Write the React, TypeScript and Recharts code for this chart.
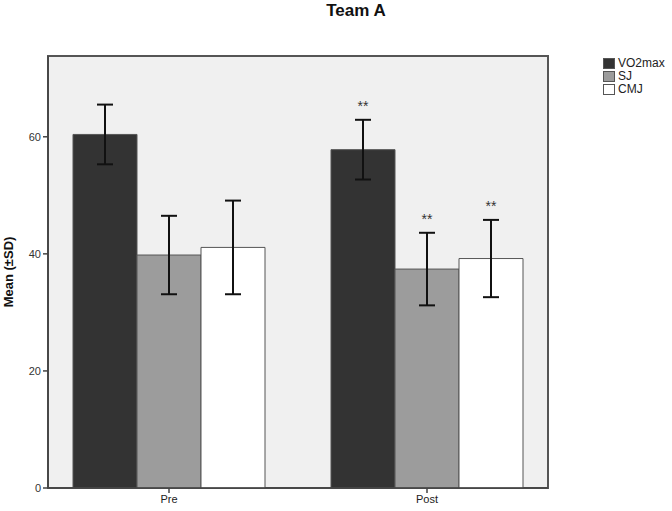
import { Bar, BarChart, CartesianGrid, ErrorBar, LabelList, ReferenceArea, XAxis, YAxis } from "recharts";

const PHASES = ["Pre", "Post"];
const VO2MAX = [60.4, 57.8];
const VO2MAX_SD = [5.1, 5.1];
const SJ = [39.8, 37.4];
const SJ_SD = [6.7, 6.2];
const CMJ = [41.1, 39.2];
const CMJ_SD = [8.0, 6.6];
const SIG = ["", "**"];
const Y_TICKS = [0, 20, 40, 60];
const Y_MAX = 73.8;

const SERIES = [
  { key: "VO2max", fill: "#333333", means: VO2MAX, sds: VO2MAX_SD },
  { key: "SJ", fill: "#9c9c9c", means: SJ, sds: SJ_SD },
  { key: "CMJ", fill: "#ffffff", means: CMJ, sds: CMJ_SD },
];

const data = PHASES.map((phase, i) => {
  const row: Record<string, string | number> = { phase };
  SERIES.forEach((s) => {
    row[s.key] = s.means[i];
    row[s.key + "Sd"] = s.sds[i];
  });
  return row;
});

const FONT = "'Liberation Sans', Arial, sans-serif";

// "**" sits above the upper whisker; the whisker top is derived from the bar's own pixel scale
function sigLabel(means: number[], sds: number[]) {
  return (props: any) => {
    const vb = props.viewBox ?? props;
    const x = vb.x ?? props.x;
    const y = vb.y ?? props.y;
    const w = vb.width ?? props.width;
    const h = vb.height ?? props.height;
    const i = props.index ?? 0;
    const mark = SIG[i];
    if (!mark) return null;
    const perUnit = h / means[i];
    const top = y - sds[i] * perUnit;
    return (
      <text x={x + w / 2} y={top - 9} textAnchor="middle" fontFamily={FONT} fontSize={14} fill="#333">
        {mark}
      </text>
    );
  };
}

function LegendBox() {
  return (
    <div
      style={{
        position: "absolute",
        left: 603,
        top: 57,
        fontFamily: FONT,
        fontSize: 12,
        color: "#222",
        lineHeight: "13px",
      }}
    >
      {SERIES.map((s) => (
        <div key={s.key} style={{ display: "flex", alignItems: "center", height: 13 }}>
          <span
            style={{
              display: "inline-block",
              width: 10,
              height: 9,
              background: s.fill,
              border: "1px solid #555",
              marginRight: 3,
            }}
          />
          {s.key}
        </div>
      ))}
    </div>
  );
}

export default function App() {
  return (
    <div style={{ position: "absolute", left: 0, top: 0, width: 672, height: 511, background: "#fff" }}>
      <div
        style={{
          position: "absolute",
          left: 356,
          top: 1,
          transform: "translateX(-50%)",
          fontFamily: FONT,
          fontWeight: "bold",
          fontSize: 17,
          color: "#111",
        }}
      >
        Team A
      </div>
      <LegendBox />
      <BarChart
        width={672}
        height={511}
        data={data}
        margin={{ top: 56, right: 124, bottom: 0, left: 0 }}
        barGap={0}
        barSize={64}
        accessibilityLayer={false}
      >
        <CartesianGrid fill="#f0f0f0" horizontal={false} vertical={false} />
        <XAxis
          dataKey="phase"
          padding={{ left: -8, right: -8 }}
          height={23}
          tickSize={5}
          stroke="#444"
          strokeWidth={1.5}
          tick={{ fill: "#222", fontSize: 11, fontFamily: FONT }}
        />
        {/* unpadded twin axis, only used to size the plot frame */}
        <XAxis xAxisId="frame" dataKey="phase" hide />
        <YAxis
          domain={[0, Y_MAX]}
          ticks={Y_TICKS}
          width={48}
          tickSize={5}
          stroke="#444"
          strokeWidth={1.5}
          tick={{ fill: "#333", fontSize: 11, fontFamily: FONT }}
          label={{
            value: "Mean (±SD)",
            angle: -90,
            position: "insideLeft",
            offset: 8,
            style: { fontFamily: FONT, fontWeight: "bold", fontSize: 13, fill: "#111", textAnchor: "middle" },
          }}
        />
        {SERIES.map((s) => (
          <Bar key={s.key} dataKey={s.key} fill={s.fill} stroke="#555" strokeWidth={1} isAnimationActive={false}>
            <ErrorBar dataKey={s.key + "Sd"} width={8} stroke="#111" strokeWidth={2} direction="y" />
            <LabelList dataKey={s.key} content={sigLabel(s.means, s.sds)} />
          </Bar>
        ))}
        <ReferenceArea xAxisId="frame" y1={0} y2={Y_MAX} fill="none" stroke="#555" strokeWidth={2} />
      </BarChart>
    </div>
  );
}
